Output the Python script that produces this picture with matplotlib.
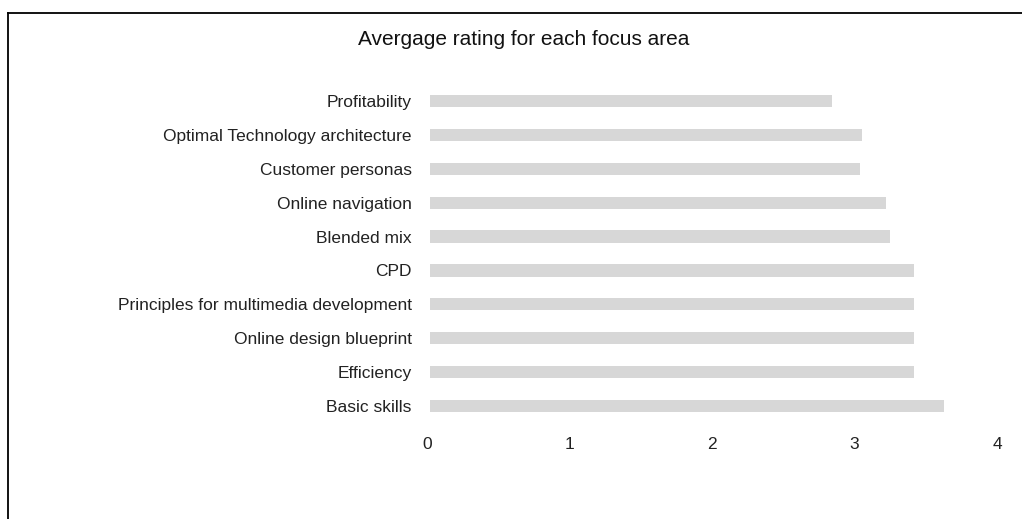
import matplotlib.pyplot as plt
from matplotlib.lines import Line2D

# focus areas, top to bottom as shown
areas = ["Profitability", "Optimal Technology architecture", "Customer personas",
         "Online navigation", "Blended mix", "CPD",
         "Principles for multimedia development", "Online design blueprint",
         "Efficiency", "Basic skills"]
ratings = [2.82, 3.03, 3.02, 3.2, 3.23, 3.4, 3.4, 3.4, 3.4, 3.61]
xticks = [0, 1, 2, 3, 4]

plt.rcParams['font.family'] = ['Liberation Sans', 'DejaVu Sans']

fig = plt.figure(figsize=(10.22, 5.19), dpi=100, facecolor='white')
ax = fig.add_axes([0.4178, 0.185, 0.5577, 0.653])

ypos = list(range(len(areas)))[::-1]
ax.barh(ypos, ratings, height=0.36, left=0.02, color='#d7d7d7')

ax.set_xlim(0, 4)
ax.set_ylim(-0.5, len(areas) - 0.5)
ax.set_yticks(ypos)
ax.set_yticklabels(areas, fontsize=12.5, color='#222222')
ax.set_xticks(xticks)
ax.set_xticklabels([str(t) for t in xticks], fontsize=12.5, color='#222222')
ax.tick_params(length=0)
ax.tick_params(axis='y', pad=11)
ax.tick_params(axis='x', pad=10)
for s in ax.spines.values():
    s.set_visible(False)

fig.text(0.512, 0.923, "Avergage rating for each focus area", ha='center',
         va='center', fontsize=15, color='#111111')

# frame lines on left and top
fig.add_artist(Line2D([0.0083, 0.0083], [0.0, 0.974], color='black', lw=1.3,
                      transform=fig.transFigure))
fig.add_artist(Line2D([0.0083, 1.0], [0.974, 0.974], color='black', lw=1.3,
                      transform=fig.transFigure))

fig.savefig("out.png", dpi=100, facecolor='white')
